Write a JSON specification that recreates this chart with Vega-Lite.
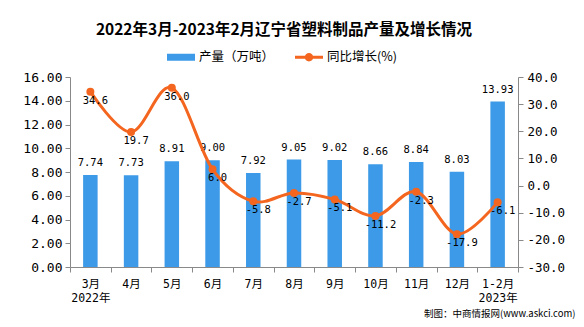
{
  "$schema": "https://vega.github.io/schema/vega-lite/v6.json",
  "width": 448,
  "height": 190,
  "autosize": "none",
  "padding": {"left": 70, "top": 77, "right": 66, "bottom": 60},
  "background": "white",
  "title": {
    "text": "2022年3月-2023年2月辽宁省塑料制品产量及增长情况",
    "font": "Noto Sans CJK SC",
    "fontSize": 15.5,
    "fontWeight": "bold",
    "color": "#000000",
    "anchor": "middle",
    "frame": "group",
    "dx": -10,
    "offset": 5
  },
  "config": {
    "locale": {"number": {"decimal": ".", "thousands": ",", "grouping": [3], "currency": ["", ""], "minus": "-"}},
    "view": {"stroke": null},
    "axis": {
      "domainColor": "#898989",
      "tickColor": "#898989",
      "labelColor": "#000000",
      "grid": false,
      "tickSize": 5,
      "labelFont": "DejaVu Sans Mono, Noto Sans CJK SC"
    }
  },
  "data": {
    "values": [
      {"month": "3月|2022年", "output": 7.74, "yoy": 34.6},
      {"month": "4月", "output": 7.73, "yoy": 19.7},
      {"month": "5月", "output": 8.91, "yoy": 36.0},
      {"month": "6月", "output": 9.00, "yoy": 6.0},
      {"month": "7月", "output": 7.92, "yoy": -5.8},
      {"month": "8月", "output": 9.05, "yoy": -2.7},
      {"month": "9月", "output": 9.02, "yoy": -5.1},
      {"month": "10月", "output": 8.66, "yoy": -11.2},
      {"month": "11月", "output": 8.84, "yoy": -2.3},
      {"month": "12月", "output": 8.03, "yoy": -17.9},
      {"month": "1-2月|2023年", "output": 13.93, "yoy": -6.1}
    ]
  },
  "encoding": {
    "x": {
      "field": "month",
      "type": "ordinal",
      "sort": null,
      "scale": {"paddingInner": 0, "paddingOuter": 0},
      "axis": {
        "labelAngle": 0,
        "labelExpr": "isValid(datum.value) ? split(datum.value, '|') : ''",
        "labelFontSize": 11.5,
        "labelLineHeight": 14,
        "labelPadding": 6,
        "labelBaseline": "top",
        "tickBand": "extent",
        "title": "制图：中商情报网(www.askci.com)",
        "titleFont": "Noto Sans CJK SC",
        "titleFontSize": 9.5,
        "titleFontWeight": "normal",
        "titleColor": "#000000",
        "titleAlign": "right",
        "titleAnchor": "end",
        "titleX": 505,
        "titleY": 46,
        "titleBaseline": "middle"
      }
    }
  },
  "layer": [
    {
      "encoding": {
        "y": {
          "field": "output",
          "type": "quantitative",
          "scale": {"domain": [0, 16]},
          "axis": {
            "title": null,
            "values": [0, 2, 4, 6, 8, 10, 12, 14, 16],
            "format": ".2f",
            "labelFontSize": 13,
            "labelPadding": 3
          }
        }
      },
      "layer": [
        {
          "mark": {"type": "bar", "size": 14.5},
          "encoding": {
            "color": {
              "datum": "产量（万吨）",
              "scale": {"domain": ["产量（万吨）", "同比增长(%)"], "range": ["#3d9ae8", "#f4661f"]},
              "legend": {
                "title": null,
                "orient": "none",
                "direction": "horizontal",
                "legendX": 97,
                "legendY": -34,
                "labelFont": "Noto Sans CJK SC",
                "labelFontSize": 12.5,
                "labelColor": "#000000",
                "labelOffset": 4,
                "columnPadding": 20,
                "symbolSize": 784,
                "encode": {
                  "symbols": {
                    "update": {
                      "shape": {"signal": "datum.value === '产量（万吨）' ? 'M-1,-0.25L1,-0.25L1,0.25L-1,0.25Z' : 'M-1,-0.1L1,-0.1L1,0.1L-1,0.1Z M-0.3,0A0.3,0.3 0 1,1 0.3,0A0.3,0.3 0 1,1 -0.3,0Z'"},
                      "size": {"value": 784},
                      "fill": {"signal": "datum.value === '产量（万吨）' ? '#3d9ae8' : '#f4661f'"},
                      "fillOpacity": {"value": 1},
                      "strokeWidth": {"value": 0}
                    }
                  }
                }
              }
            }
          }
        },
        {
          "mark": {"type": "text", "baseline": "bottom", "dy": -7, "font": "DejaVu Sans Mono", "fontSize": 10.5, "color": "#000000"},
          "encoding": {"text": {"field": "output", "type": "quantitative", "format": ".2f"}}
        }
      ]
    },
    {
      "encoding": {
        "y": {
          "field": "yoy",
          "type": "quantitative",
          "scale": {"domain": [-30, 40]},
          "axis": {
            "orient": "right",
            "title": null,
            "values": [-30, -20, -10, 0, 10, 20, 30, 40],
            "format": ".1f",
            "labelFontSize": 12.5,
            "labelPadding": 4
          }
        }
      },
      "layer": [
        {
          "mark": {"type": "line", "interpolate": "cardinal", "tension": 0, "strokeWidth": 3, "point": {"filled": true, "size": 64}},
          "encoding": {"color": {"datum": "同比增长(%)"}}
        },
        {
          "mark": {"type": "text", "baseline": "middle", "dy": 9, "dx": 5, "font": "DejaVu Sans Mono", "fontSize": 10.5, "color": "#000000"},
          "encoding": {"text": {"field": "yoy", "type": "quantitative", "format": ".1f"}}
        }
      ]
    }
  ],
  "resolve": {"scale": {"y": "independent"}}
}
